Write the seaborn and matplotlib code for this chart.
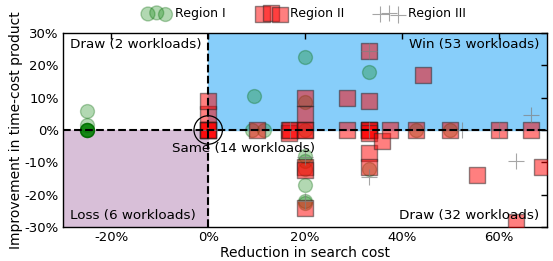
import numpy as np
import pandas as pd
import matplotlib
matplotlib.use("Agg")
import matplotlib.pyplot as plt
import seaborn as sns
from matplotlib.ticker import FuncFormatter

# data (values in %)
r1_x = [-25, -25, -25, -25, -25, -25, -25, -25, 9.5, 9, 11.5, 20, 20, 20, 20, 20, 20, 20, 20, 20,
        33.3, 33.3, 43, 50]
r1_y = [0, 0, 0, 0, 0, 0, 1.5, 6, 10.5, 0, 0, 22.5, 8.5, 0, -8, -9.5, -12, -17, -22, -22.5,
        18, -12, 0, 0]

r2_x = [0, 0, 0, 0, 0, 0, 10, 16.7, 16.7, 17, 20, 20, 20, 20, 20, 20, 20,
        28.6, 28.6, 33.3, 33.3, 33.3, 33.3, 33.3, 33.3, 33.3, 33.3,
        36, 37.5, 44.4, 42.9, 50, 55.6, 60, 63.6, 66.7, 69]
r2_y = [0, 0, 0, 0, 5, 9, 0, 0, -1, 0, 0, 0, 10, 5, -11.5, -12.5, -24,
        10, 0, 24.5, 9, 0, 0, 0, -1, -7, -11.5,
        -3.5, 0, 17, 0, 0, -14, 0, -28.5, 0, -11.5]

r3_x = [0, 17, 20, 20, 33.3, 33.3, 33.3, 52.4, 60, 63.6, 66.7]
r3_y = [0, 0, -8.5, -22, 24.5, 0, -14.5, 0, 0, -9.5, 4.5]

same_x = [0]
same_y = [0]

r1 = pd.DataFrame({"x": r1_x, "y": r1_y})
r2 = pd.DataFrame({"x": r2_x, "y": r2_y})
r3 = pd.DataFrame({"x": r3_x, "y": r3_y})

sns.set_style("white")
plt.rcParams["font.family"] = ["DejaVu Sans"]
plt.rcParams["font.size"] = 9.5
plt.rcParams["text.color"] = "black"
plt.rcParams["axes.labelcolor"] = "black"
plt.rcParams["xtick.color"] = "black"
plt.rcParams["ytick.color"] = "black"

fig = plt.figure(figsize=(5.53, 2.61), dpi=100)
ax = fig.add_axes([0.114, 0.130, 0.875, 0.744])

# shaded quadrants
ax.fill_between([0, 70], 0, 30, color="lightskyblue", zorder=0)
ax.fill_between([-30, 0], -30, 0, color="thistle", zorder=0)

sns.scatterplot(data=r1, x="x", y="y", ax=ax, marker="o", s=100, color="green",
                alpha=0.3, edgecolor="darkgreen", linewidth=1, label="Region I", zorder=2)
sns.scatterplot(data=r2, x="x", y="y", ax=ax, marker="s", s=125, color="red",
                alpha=0.5, edgecolor="#222222", linewidth=1, label="Region II", zorder=3)
sns.scatterplot(data=r3, x="x", y="y", ax=ax, marker="+", s=140, color="gray",
                alpha=0.7, linewidth=0.8, label="Region III", zorder=4)
sns.scatterplot(x=same_x, y=same_y, ax=ax, marker="o", s=420, facecolor="none",
                edgecolor="black", linewidth=0.9, zorder=5, legend=False)

ax.axhline(0, color="black", linestyle="--", linewidth=1.5, zorder=6)
ax.axvline(0, color="black", linestyle="--", linewidth=1.5, zorder=6)

ax.set_xlim(-30, 70)
ax.set_ylim(-30, 30)
ax.set_xticks([-20, 0, 20, 40, 60])
ax.set_yticks([-30, -20, -10, 0, 10, 20, 30])
pct = FuncFormatter(lambda v, p: "%d%%" % v)
ax.xaxis.set_major_formatter(pct)
ax.yaxis.set_major_formatter(pct)
ax.tick_params(direction="in", top=True, right=True, length=4, width=1,
               color="black", labelsize=9.5, pad=3)
for sp in ax.spines.values():
    sp.set_color("black")
    sp.set_linewidth(1)

ax.set_xlabel("Reduction in search cost", fontsize=10, labelpad=1)
ax.set_ylabel("Improvement in time-cost product", fontsize=10, labelpad=1)

ax.text(-28.5, 26.5, "Draw (2 workloads)", fontsize=9.7, va="center")
ax.text(68.5, 26.5, "Win (53 workloads)", fontsize=9.7, va="center", ha="right")
ax.text(-28.5, -26.5, "Loss (6 workloads)", fontsize=9.7, va="center")
ax.text(68.5, -26.5, "Draw (32 workloads)", fontsize=9.7, va="center", ha="right")
ax.text(-7.5, -5.8, "Same (14 workloads)", fontsize=9.7, va="center", zorder=7)

ax.legend(loc="lower center", bbox_to_anchor=(0.5, 1.02), ncol=3, frameon=False,
          scatterpoints=3, fontsize=9, handletextpad=0.5, columnspacing=2.6,
          borderaxespad=0.3)

fig.savefig("out.png", dpi=100)
